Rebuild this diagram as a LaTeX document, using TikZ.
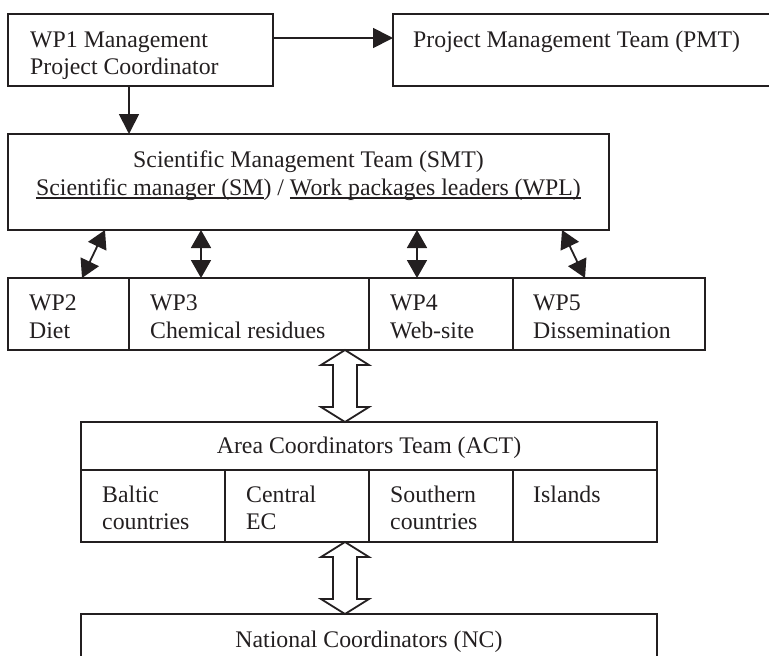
\documentclass[tikz,border=0pt]{standalone}
\usepackage{fontspec}
\setmainfont{Liberation Serif}
\usetikzlibrary{arrows.meta}
\definecolor{ink}{HTML}{231F20}
\newcommand\myul[1]{\leavevmode\setbox0\hbox{#1}\rlap{\rule[-3.6pt]{\wd0}{1.4pt}}\box0}
\begin{document}
\begin{tikzpicture}[x=1pt,y=-1pt,
  box/.style={draw=ink,line width=1.8pt,rectangle,inner sep=0pt,outer sep=0pt,anchor=north west},
  txt/.style={text=ink,inner sep=0pt,font=\fontsize{23.8}{27}\selectfont},
  lt/.style={txt,anchor=base west},
  ct/.style={txt,anchor=base},
  arr/.style={draw=ink,line width=1.8pt,-{Triangle[length=20pt,width=20pt]}},
  dbl/.style={draw=ink,line width=1.8pt,{Triangle[length=18pt,width=20pt]}-{Triangle[length=18pt,width=20pt]}},
  hollow/.style={draw=ink,line width=1.8pt,fill=white,line join=miter}]
\useasboundingbox (0,0) rectangle (769,656);
% boxes
\node[box,minimum width=265,minimum height=72] (wp1) at (8,14) {};
\node[box,minimum width=390,minimum height=72] (pmt) at (393,14) {};
\node[box,minimum width=601,minimum height=96] (smt) at (8,134) {};
\node[box,minimum width=121,minimum height=72] (wp2) at (8,278) {};
\node[box,minimum width=240,minimum height=72] (wp3) at (129,278) {};
\node[box,minimum width=144,minimum height=72] (wp4) at (369,278) {};
\node[box,minimum width=192,minimum height=72] (wp5) at (513,278) {};
\node[box,minimum width=576,minimum height=48] (act) at (81,422) {};
\node[box,minimum width=144,minimum height=72] (baltic) at (81,470) {};
\node[box,minimum width=144,minimum height=72] (central) at (225,470) {};
\node[box,minimum width=144,minimum height=72] (southern) at (369,470) {};
\node[box,minimum width=144,minimum height=72] (islands) at (513,470) {};
\node[box,minimum width=576,minimum height=80] (nc) at (81,614) {};
% texts
\node[lt] (t1a) at (30,47) {WP1 Management};
\node[lt] (t1b) at (30,74) {Project Coordinator};
\node[lt] (tpmt) at (413,47) {Project Management Team (PMT)};
\node[ct] (tsmt1) at (308.5,167) {Scientific Management Team (SMT)};
\node[ct] (tsmt2) at (308.5,195) {\myul{Scientific manager (SM})~/ \myul{Work packages leaders (WPL)}};
\node[lt] (twp2a) at (29,310) {WP2};
\node[lt] (twp2b) at (29,338) {Diet};
\node[lt] (twp3a) at (150,310) {WP3};
\node[lt] (twp3b) at (150,338) {Chemical residues};
\node[lt] (twp4a) at (390,310) {WP4};
\node[lt] (twp4b) at (390,338) {Web-site};
\node[lt] (twp5a) at (533,310) {WP5};
\node[lt] (twp5b) at (533,338) {Dissemination};
\node[ct] (tact) at (369,453) {Area Coordinators Team (ACT)};
\node[lt] (tba) at (102,502) {Baltic};
\node[lt] (tbb) at (102,529) {countries};
\node[lt] (tca) at (246,502) {Central};
\node[lt] (tcb) at (246,529) {EC};
\node[lt] (tsa) at (390,502) {Southern};
\node[lt] (tsb) at (390,529) {countries};
\node[lt] (tia) at (533,502) {Islands};
\node[ct] (tnc) at (369,647) {National Coordinators (NC)};
% connectors
\coordinate (a1) at (273,38);
\draw[arr] (a1) -- (a1 -| pmt.west);
\coordinate (a2) at (129,86);
\draw[arr] (a2) -- (a2 |- smt.north);
\coordinate (d1a) at (105,230); \coordinate (d1b) at (82,278);
\coordinate (d2a) at (201,230); \coordinate (d2b) at (201,278);
\coordinate (d3a) at (417,230); \coordinate (d3b) at (417,278);
\coordinate (d4a) at (562,230); \coordinate (d4b) at (585,278);
\draw[dbl] (d1a) -- (d1b);
\draw[dbl] (d2a) -- (d2b);
\draw[dbl] (d3a) -- (d3b);
\draw[dbl] (d4a) -- (d4b);
\coordinate (h1a) at (345,350); \coordinate (h1b) at (345,422);
\coordinate (h2a) at (345,542); \coordinate (h2b) at (345,614);
\draw[hollow] (h1a) -- ++(24,15) -- ++(-12,0) -- ++(0,42) -- ++(12,0) -- (h1b)
  -- ++(-24,-15) -- ++(12,0) -- ++(0,-42) -- ++(-12,0) -- cycle;
\draw[hollow] (h2a) -- ++(24,15) -- ++(-12,0) -- ++(0,42) -- ++(12,0) -- (h2b)
  -- ++(-24,-15) -- ++(12,0) -- ++(0,-42) -- ++(-12,0) -- cycle;
\end{tikzpicture}
\end{document}
